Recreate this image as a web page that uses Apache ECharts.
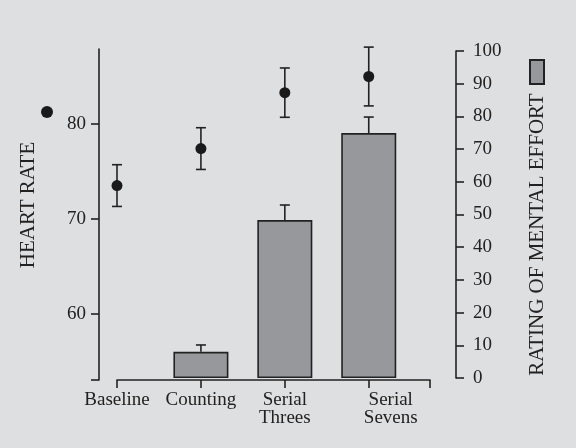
<!DOCTYPE html>
<html>
<head>
<meta charset="utf-8">
<script src="https://cdn.jsdelivr.net/npm/echarts@6/dist/echarts.min.js"></script>
<style>
html, body { margin: 0; padding: 0; background: #dedfe1; }
#main { width: 576px; height: 448px; }
</style>
</head>
<body>
<div id="main"></div>
<script>
// values
var categories = ['Baseline', 'Counting', 'Serial\nThrees', 'Serial\nSevens'];
var heartRate = [73.5, 77.4, 83.3, 85.0];
var heartRateErr = [2.2, 2.2, 2.6, 3.1];
var effort = [null, 8.0, 48.3, 74.9];
var effortErr = [null, 2.1, 4.6, 4.9];
var hrTicks = [60, 70, 80];

var font = "'Liberation Serif', 'DejaVu Serif', serif";
var ink = '#222222';

var chartDom = document.getElementById('main');
var myChart = echarts.init(chartDom);

// points and bars keyed by category index
var hrData = heartRate.map(function (v, i) { return [i, v]; });
var hrErrData = heartRate.map(function (v, i) { return [i, v, heartRateErr[i]]; });
var effData = [];
var effErrData = [];
effort.forEach(function (v, i) {
    if (v == null) return;
    effData.push([i, v]);
    effErrData.push([i, v, effortErr[i]]);
});

function errBar(upperOnly) {
    return function (params, api) {
        var x = api.value(0), v = api.value(1), e = api.value(2);
        var top = api.coord([x, v + e]);
        var bot = api.coord([x, upperOnly ? v : v - e]);
        var st = { stroke: ink, lineWidth: 1.6 };
        var kids = [
            { type: 'line', shape: { x1: top[0], y1: top[1], x2: bot[0], y2: bot[1] }, style: st },
            { type: 'line', shape: { x1: top[0] - 5, y1: top[1], x2: top[0] + 5, y2: top[1] }, style: st }
        ];
        if (!upperOnly) {
            kids.push({ type: 'line', shape: { x1: bot[0] - 5, y1: bot[1], x2: bot[0] + 5, y2: bot[1] }, style: st });
        }
        return { type: 'group', children: kids };
    };
}

var option = {
    backgroundColor: '#dedfe1',
    textStyle: { fontFamily: font, color: ink },
    legend: [
        {
            data: ['Heart rate'], left: 41, top: 106, padding: 0,
            itemWidth: 12, itemHeight: 12, selectedMode: false,
            formatter: function () { return ''; }
        },
        {
            data: ['Mental effort'], left: 529, top: 59, padding: 0,
            itemWidth: 14, itemHeight: 24, icon: 'rect', selectedMode: false,
            formatter: function () { return ''; }
        }
    ],
    grid: [
        { left: 117, right: 146, top: 49, height: 331 },
        { left: 117, right: 146, top: 51, height: 327 }
    ],
    xAxis: [
        {
            gridIndex: 0, type: 'value', min: 0, max: 3.73,
            splitLine: { show: false },
            axisLine: { onZero: false, lineStyle: { color: ink, width: 1.6 } },
            axisTick: { customValues: [0, 1, 2, 3, 3.73], length: 8, lineStyle: { color: ink, width: 1.6 } },
            axisLabel: {
                customValues: [0, 1, 2, 3], margin: 11,
                fontSize: 19, lineHeight: 18, color: ink, fontFamily: font,
                formatter: function (v) {
                    var t = categories[Math.round(v)];
                    if (Math.round(v) === 3) {
                        return t.split('\n').map(function (s) { return '{s|' + s + '}'; }).join('\n');
                    }
                    return t;
                },
                rich: { s: { fontSize: 19, lineHeight: 18, padding: [0, 0, 0, 44], fontFamily: font, color: ink } }
            }
        },
        { gridIndex: 1, type: 'value', min: 0, max: 3.73, show: false }
    ],
    yAxis: [
        {
            gridIndex: 0, type: 'value', position: 'left', offset: 18,
            min: 53, max: 87.9,
            name: 'HEART RATE', nameLocation: 'middle', nameRotate: 90, nameGap: 60,
            nameTextStyle: { fontSize: 21, fontFamily: font, color: ink, padding: [0, 0, 0, 19] },
            splitLine: { show: false },
            axisLine: { show: true, onZero: false, lineStyle: { color: ink, width: 1.6 } },
            axisTick: { show: true, customValues: [53, 60, 70, 80], length: 8, lineStyle: { color: ink, width: 1.6 } },
            axisLabel: { customValues: hrTicks, margin: 13, fontSize: 19, color: ink, fontFamily: font }
        },
        {
            gridIndex: 1, type: 'value', position: 'right', offset: 26,
            min: 0, max: 100, interval: 10,
            name: 'RATING OF MENTAL EFFORT', nameLocation: 'middle', nameRotate: 90, nameGap: 71,
            nameTextStyle: { fontSize: 21, fontFamily: font, color: ink, padding: [0, 40, 0, 0] },
            splitLine: { show: false },
            axisLine: { show: true, onZero: false, lineStyle: { color: ink, width: 1.6 } },
            axisTick: { show: true, length: 8, lineStyle: { color: ink, width: 1.6 } },
            axisLabel: { margin: 17, fontSize: 19, color: ink, fontFamily: font }
        }
    ],
    series: [
        {
            name: 'Mental effort', type: 'bar', xAxisIndex: 1, yAxisIndex: 1,
            barWidth: 55, data: effData,
            itemStyle: { color: '#97989c', borderColor: ink, borderWidth: 1.6 }
        },
        {
            type: 'custom', xAxisIndex: 1, yAxisIndex: 1,
            renderItem: errBar(true), data: effErrData
        },
        {
            type: 'custom', xAxisIndex: 0, yAxisIndex: 0,
            renderItem: errBar(false), data: hrErrData
        },
        {
            name: 'Heart rate', type: 'scatter', xAxisIndex: 0, yAxisIndex: 0,
            symbol: 'circle', symbolSize: 11, data: hrData,
            itemStyle: { color: '#1a1a1a', opacity: 1 }, z: 5
        }
    ]
};

myChart.setOption(option);
</script>
</body>
</html>
